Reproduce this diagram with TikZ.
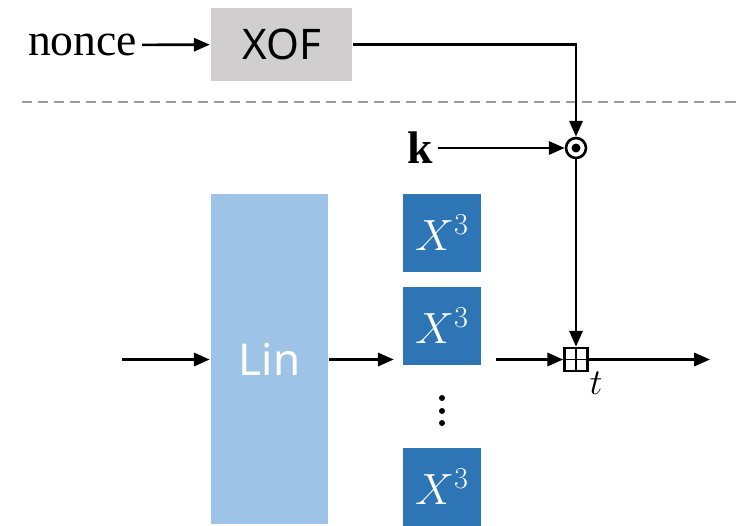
\documentclass[tikz,border=0pt]{standalone}
\usepackage{fontspec}
\setmainfont{Liberation Serif}
\newfontfamily\boxsans{Noto Sans}
\usetikzlibrary{arrows.meta}

\definecolor{xofgray}{HTML}{D0CECE}
\definecolor{linblue}{HTML}{9DC3E6}
\definecolor{cubeblue}{HTML}{2E75B6}
\definecolor{sepgray}{HTML}{9A9A9A}

\tikzset{
  graybox/.style={fill=xofgray,inner sep=0pt,minimum width=2.82cm,minimum height=1.46cm,
    font=\boxsans\fontsize{24}{28}\selectfont},
  linbox/.style={fill=linblue,text=white,inner sep=0pt,minimum width=2.34cm,minimum height=6.6cm,
    font=\boxsans\fontsize{25}{30}\selectfont},
  cubebox/.style={fill=cubeblue,text=white,inner sep=0pt,minimum size=1.56cm,
    font=\fontsize{25}{30}\selectfont},
  label/.style={inner sep=2pt,font=\fontsize{26}{30}\selectfont},
}

\begin{document}
\begin{tikzpicture}[x=0.02cm,y=-0.02cm,line width=1.5pt,>={Triangle[length=9pt,width=7.5pt]}]
    \useasboundingbox (0,0) rectangle (736,525);

    % upper part: nonce through the XOF
    \node[label,anchor=east] (nonce) at (142,45) {nonce};
    \node[graybox] (xof) at (281.5,44.5) {XOF};
    \draw[->] (nonce) -- (xof);

    \draw[sepgray,dash pattern=on 5.7pt off 3.4pt] (22,102) -- (736,102);

    % key times XOF output
    \node[label,anchor=east] (key) at (438,148) {\textbf{k}};
    \node[draw,circle,minimum size=0.4cm,inner sep=0pt] (mul) at (576,148) {};
    \fill (mul.center) circle (4.5);
    \draw[->] (xof.east) -| (mul.north);
    \draw[->] (key) -- (mul);

    % lower part: Lin and the cubes
    \coordinate (in) at (122,359.5);
    \node[linbox] (lin) at (269.5,359) {Lin};
    \node[cubebox] (cubeA) at (442,233) {$X^3$};
    \node[cubebox] (cubeB) at (442,326) {$X^3$};
    \node[cubebox] (cubeC) at (442,487) {$X^3$};
    \foreach \y in {398,411,423}
        \fill (442,\y) circle (3);

    \node[draw,minimum size=0.46cm,inner sep=0pt] (add) at (576,359.5) {};
    \draw[line width=1.1pt] (add.north) -- (add.south) (add.west) -- (add.east);
    \node[font=\fontsize{22}{26}\selectfont] (tag) at (596,383) {$t$};
    \coordinate (out) at (710,359.5);

    \draw[->] (in) -- (lin.west |- in);
    \draw[->,shorten >=4.5pt] (lin.east |- in) -- (cubeB.west |- in);
    \draw[->,shorten <=8pt] (cubeB.east |- in) -- (add.west);
    \draw[->] (mul.south) -- (add.north);
    \draw[->] (add.east) -- (out);
\end{tikzpicture}
\end{document}
